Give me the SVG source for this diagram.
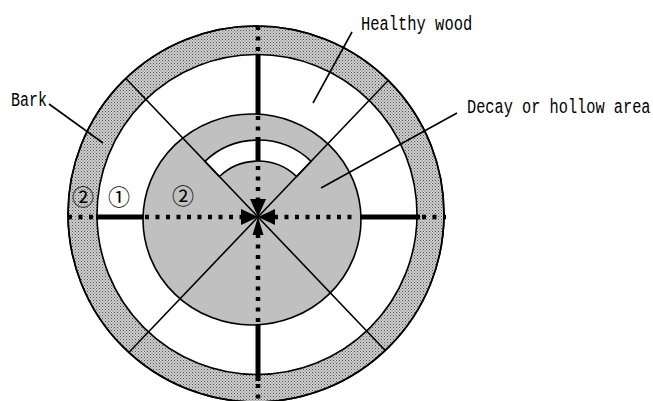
<svg xmlns="http://www.w3.org/2000/svg" width="653" height="401" viewBox="0 0 653 401">
<style>
.thin{stroke:#000;stroke-width:1.6;fill:none}
.dot{stroke:#000;stroke-width:4.5;stroke-dasharray:4 6.5;fill:none}
.solid{stroke:#000;stroke-width:5;fill:none}
.lbl{font-family:"Liberation Mono","DejaVu Sans Mono",monospace;font-size:15px;fill:#000}
.num{font-family:"Noto Sans CJK JP","DejaVu Sans",sans-serif;font-size:22px;fill:#000;text-anchor:middle}
</style>
<defs>
<pattern id="bark" width="3" height="3" patternUnits="userSpaceOnUse">
<rect width="3" height="3" fill="#cdcdcd"/>
<rect x="0" y="0" width="1" height="1" fill="#555"/>
<rect x="1.5" y="1.5" width="1" height="1" fill="#7a7a7a"/>
</pattern>
<clipPath id="outer"><circle cx="256" cy="214" r="188"/></clipPath>
</defs>
<rect width="653" height="401" fill="#fff"/>
<g id="bark-ring">
<circle cx="256" cy="214" r="188" style="fill:url(#bark)" stroke="#000" stroke-width="1.6"/>
</g>
<g id="healthy-wood">
<circle cx="257" cy="214.5" r="160" fill="#fff" stroke="#000" stroke-width="1.6"/>
</g>
<g id="decay-area">
<ellipse cx="252" cy="219.5" rx="109" ry="105.5" fill="#c0c0c0" stroke="#000" stroke-width="1.6"/>
<path d="M204.9,161.3 A77,77 0 0 1 311.1,161.3 L296.6,176.5 A56,56 0 0 0 219.4,176.5 Z" fill="#fff" stroke="#000" stroke-width="1.6"/>
</g>
<g id="connectors">
<g clip-path="url(#outer)">
<line x1="120" y1="72.2" x2="396" y2="361.8" class="thin"/>
<line x1="396" y1="72.2" x2="120" y2="361.8" class="thin"/>
</g>
<circle cx="256" cy="214" r="188" class="thin"/>
<path d="M68,217 H96" class="dot"/>
<path d="M96,217 H143" class="solid"/>
<path d="M145,217 H242" class="dot"/>
<path d="M274,217 H358" class="dot"/>
<path d="M360,217 H420" class="solid"/>
<path d="M422,217 H446" class="dot"/>
<path d="M258,26 V54" class="dot"/>
<path d="M258,54 V114" class="solid"/>
<path d="M258,116 V137" class="dot"/>
<path d="M258,137 V161" class="solid"/>
<path d="M258,166 V199" class="dot"/>
<path d="M258,234 V322" class="dot"/>
<path d="M258,324 V381" class="solid"/>
<path d="M258,384 V401" class="dot"/>
<path d="M241,209 L258,217 L241,225 Z" fill="#000"/>
<path d="M275,209 L258,217 L275,225 Z" fill="#000"/>
<path d="M250,199 L258,217 L266,199 Z" fill="#000"/>
<path d="M252.5,235 L258,217 L263.5,235 Z" fill="#000"/>
<line x1="49" y1="104" x2="103" y2="143" class="thin"/>
<line x1="352" y1="32" x2="313" y2="103" class="thin"/>
<line x1="457" y1="113" x2="321" y2="188" class="thin"/>
</g>
<g id="labels">
<text class="lbl" transform="translate(11,106) scale(1,1.3)">Bark</text>
<text class="lbl" transform="translate(361,30) scale(1.03,1.3)">Healthy wood</text>
<text class="lbl" transform="translate(467,113) scale(1.02,1.3)">Decay or hollow area</text>
<text x="83" y="205" class="num">②</text>
<text x="119" y="205" class="num">①</text>
<text x="183" y="204" class="num">②</text>
</g>
</svg>
